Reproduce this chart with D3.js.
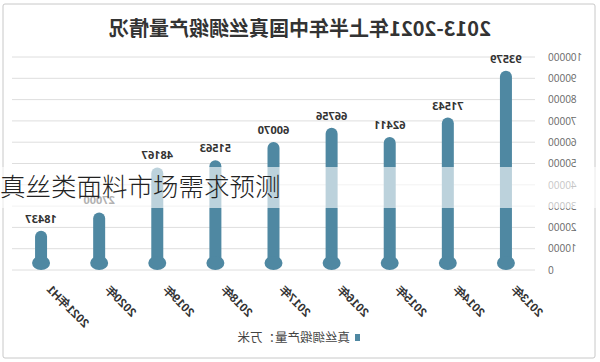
<!DOCTYPE html>
<html>
<head>
<meta charset="utf-8">
<script src="https://cdn.jsdelivr.net/npm/d3@7"></script>
<style>
  body { margin: 0; background: #fff; }
  svg { display: block; font-family: "Noto Sans CJK SC", "Noto Sans", sans-serif; }
</style>
</head>
<body>
<div id="chart"></div>
<script>
var years = ['2013年', '2014年', '2015年', '2016年', '2017年', '2018年', '2019年', '2020年', '2021年H1']
var output = [93579, 71543, 62411, 66756, 60070, 51563, 48167, 27000, 18437]
var yTicks = [0, 10000, 20000, 30000, 40000, 50000, 60000, 70000, 80000, 90000, 100000]
var title = '2013-2021年上半年中国真丝绸缎产量情况'
var legendLabel = '真丝绸缎产量：万米'
var overlayText = '真丝类面料市场需求预测'

var W = 600, H = 362
var margin = {left: 65, right: 12, top: 57, bottom: 92}
var barColor = '#4f88a2'

var svg = d3.select('#chart').append('svg').attr('width', W).attr('height', H)

// the picture is mirrored left-right, so the whole chart sits in a flipped group
var g = svg.append('g').attr('transform', 'translate(' + W + ',0) scale(-1,1)')

g.append('rect')
  .attr('x', 5).attr('y', 4).attr('width', 592).attr('height', 354)
  .attr('fill', '#fff').attr('stroke', '#c8c8c8').attr('rx', 2)

g.append('text')
  .attr('x', 300).attr('y', 36)
  .attr('text-anchor', 'middle')
  .attr('font-size', 20).attr('font-weight', 'bold').attr('fill', '#333')
  .text(title)

var x = d3.scaleBand().domain(years).range([margin.left, W - margin.right])
var y = d3.scaleLinear().domain([0, 100000]).range([H - margin.bottom, margin.top])

g.append('g').selectAll('line').data(yTicks).join('line')
  .attr('x1', margin.left).attr('x2', W - margin.right)
  .attr('y1', d => y(d)).attr('y2', d => y(d))
  .attr('stroke', '#dedede')

var yAxis = g.append('g')
  .attr('transform', 'translate(' + (margin.left - 10) + ',0)')
  .call(d3.axisLeft(y).tickValues(yTicks).tickSize(0).tickFormat(d3.format('d')))
yAxis.select('.domain').remove()
yAxis.selectAll('text').attr('font-size', 10).attr('fill', '#666').attr('font-family', 'Open Sans, sans-serif')

var bw = 12, br = 9, y0 = y(0)
var bars = g.append('g').selectAll('g').data(years).join('g')
  .attr('transform', d => 'translate(' + (x(d) + x.bandwidth() / 2) + ',0)')

bars.append('rect')
  .attr('x', -bw / 2).attr('width', bw)
  .attr('y', (d, i) => y(output[i]))
  .attr('height', (d, i) => y0 - 6 - y(output[i]))
  .attr('rx', bw / 2)
  .attr('fill', barColor)

bars.append('ellipse')
  .attr('cx', 0).attr('cy', y0 - 7)
  .attr('rx', br).attr('ry', 7)
  .attr('fill', barColor)

bars.append('text')
  .attr('y', (d, i) => y(output[i]) - 8)
  .attr('text-anchor', 'middle')
  .attr('font-size', 11).attr('font-weight', 'bold').attr('fill', '#333')
  .attr('font-family', 'Open Sans, sans-serif')
  .text((d, i) => output[i])

var xAxis = g.append('g')
  .attr('transform', 'translate(0,' + (y0 + 15) + ')')
  .call(d3.axisBottom(x).tickSize(0))
xAxis.select('.domain').remove()
xAxis.selectAll('text')
  .attr('font-size', 12).attr('font-weight', 'bold').attr('fill', '#333')
  .attr('text-anchor', 'end')
  .attr('dy', '0.35em')
  .attr('transform', 'translate(-10,0) rotate(-45)')

var lg = g.append('g').attr('transform', 'translate(240,338)')
lg.append('rect').attr('x', 0).attr('y', -4).attr('width', 5).attr('height', 7).attr('fill', barColor)
lg.append('text').attr('x', 10).attr('dy', '0.35em')
  .attr('font-size', 12.5).attr('fill', '#444')
  .text(legendLabel)

// unflipped overlay band with caption
svg.append('rect')
  .attr('x', 0).attr('y', 167).attr('width', W).attr('height', 41)
  .attr('fill', '#fff').attr('opacity', 0.62)

svg.append('text')
  .attr('x', 0).attr('y', 196)
  .attr('font-size', 25.5).attr('font-weight', 300).attr('fill', '#222')
  .text(overlayText)
</script>
</body>
</html>
